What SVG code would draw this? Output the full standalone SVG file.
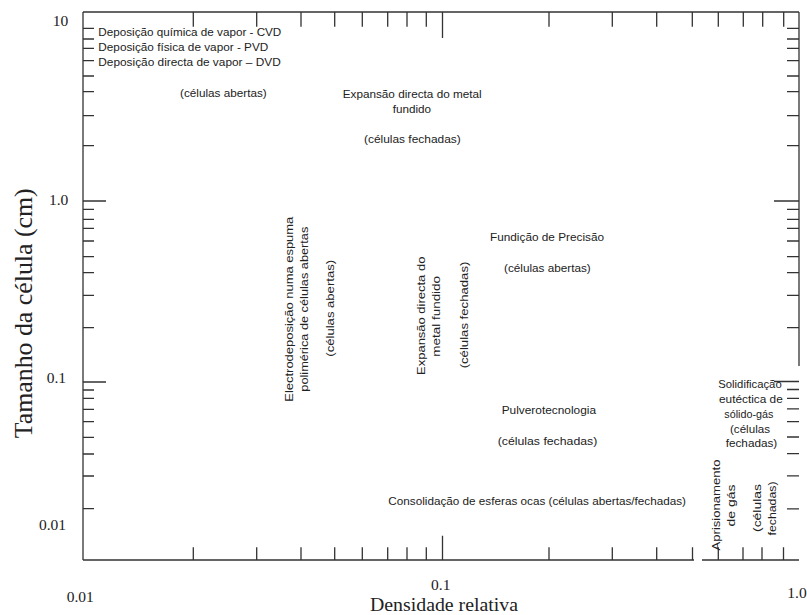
<svg xmlns="http://www.w3.org/2000/svg" width="807" height="615" viewBox="0 0 807 615">
<style>
.ax{stroke:#333;stroke-width:1.3;fill:none}
.lbl{font-family:"Liberation Sans",Arial,sans-serif;font-size:11.5px;fill:#222}
.num{font-family:"Liberation Serif","Times New Roman",serif;font-size:15.5px;fill:#222}
.ttl{font-family:"Liberation Serif","Times New Roman",serif;fill:#222}
</style>
<rect width="807" height="615" fill="#fff"/>
<g id="axes">
<path class="ax" d="M83,12V560M83,12H799M799,12V366M83,560H694M702,560H799"/>
<path class="ax" d="M83,28.3h11M83,39h11M83,48.3h11M83,60.7h11M83,76h11M83,91.7h11M83,115.7h11M83,145.7h11M83,201h23M83,209.3h11M83,219.3h11M83,228.3h11M83,241h11M83,256.7h11M83,272.7h11M83,295.3h11M83,327.7h11M83,382h23M83,390h11M83,398.3h11M83,409.3h11M83,421.7h11M83,437.3h11M83,454h11M83,476h11M83,508.7h11"/>
<path class="ax" d="M799,28.3h-12M799,39h-12M799,48.3h-12M799,60.7h-12M799,76h-12M799,91.7h-12M799,115.7h-12M799,145.7h-12M799,201h-25M799,209.3h-12M799,219.3h-12M799,228.3h-12M799,241h-12M799,256.7h-12M799,272.7h-12M799,295.3h-12M799,327.7h-12M799,381.5h-25M799,389.5h-12M799,398.3h-12M799,408.8h-12M799,421.7h-12M799,437h-12M799,453.7h-12M799,475.8h-12M799,508.8h-12"/>
<path class="ax" d="M193.3,12v14.7M256.7,12v14.7M301,12v14.7M334.7,12v14.7M362.3,12v14.7M387.7,12v14.7M407,12v14.7M426.3,12v14.7M442.5,12v26M549,12v14.7M612.3,12v14.7M656.7,12v14.7M692.3,12v14.7M718.3,12v14.7M743.3,12v14.7M762.7,12v14.7M783.7,12v14.7"/>
<path class="ax" d="M193.3,560v-12.7M256.7,560v-12.7M301,560v-12.7M334.7,560v-12.7M362.3,560v-12.7M387.7,560v-12.7M407,560v-12.7M426.3,560v-12.7M442.5,560v-24.3M549,560v-12.7M612.3,560v-12.7M656.7,560v-12.7M692.5,560v-12.7M718.3,560v-12.7M743,560v-12.7M762,560v-12.7M783.5,560v-12.7"/>
</g>
<g id="axis-numbers">
<text class="num" x="68.3" y="26" text-anchor="end">10</text>
<text class="num" x="68.3" y="205" text-anchor="end">1.0</text>
<text class="num" x="66" y="382.7" text-anchor="end">0.1</text>
<text class="num" x="66" y="530" text-anchor="end">0.01</text>
<text class="num" x="66.7" y="601.7">0.01</text>
<text class="num" x="440.7" y="589.5" text-anchor="middle" font-size="15">0.1</text>
<text class="num" x="787.3" y="597.7">1.0</text>
</g>
<g id="axis-titles">
<text class="ttl" x="370" y="610.5" font-size="19" textLength="148" lengthAdjust="spacingAndGlyphs">Densidade relativa</text>
<text class="ttl" font-size="26" text-anchor="middle" transform="translate(31.5,313.3) rotate(-90)" textLength="250" lengthAdjust="spacingAndGlyphs">Tamanho da célula (cm)</text>
</g>
<g id="deposicao-vapor">
<text class="lbl" x="98.3" y="36" textLength="183" lengthAdjust="spacingAndGlyphs">Deposição química de vapor - CVD</text>
<text class="lbl" x="98.3" y="51" textLength="170" lengthAdjust="spacingAndGlyphs">Deposição física de vapor - PVD</text>
<text class="lbl" x="98.3" y="66" textLength="182.4" lengthAdjust="spacingAndGlyphs">Deposição directa de vapor – DVD</text>
<text class="lbl" x="180" y="96.7" textLength="86.7" lengthAdjust="spacingAndGlyphs">(células abertas)</text>
</g>
<g id="expansao-metal-fundido">
<text class="lbl" x="342.7" y="98.3" textLength="139" lengthAdjust="spacingAndGlyphs">Expansão directa do metal</text>
<text class="lbl" x="392.7" y="112.7" textLength="38.3" lengthAdjust="spacingAndGlyphs">fundido</text>
<text class="lbl" x="364" y="143.3" textLength="96.7" lengthAdjust="spacingAndGlyphs">(células fechadas)</text>
</g>
<g id="fundicao-precisao">
<text class="lbl" x="490" y="241" textLength="114" lengthAdjust="spacingAndGlyphs">Fundição de Precisão</text>
<text class="lbl" x="504" y="271.7" textLength="86.7" lengthAdjust="spacingAndGlyphs">(células abertas)</text>
</g>
<g id="electrodeposicao">
<text class="lbl" text-anchor="middle" transform="translate(293.3,309.2) rotate(-90)" textLength="185" lengthAdjust="spacingAndGlyphs">Electrodeposição numa espuma</text>
<text class="lbl" text-anchor="middle" transform="translate(307.5,309.2) rotate(-90)" textLength="165" lengthAdjust="spacingAndGlyphs">polimérica de células abertas</text>
<text class="lbl" text-anchor="middle" transform="translate(334,308.3) rotate(-90)" textLength="96.7" lengthAdjust="spacingAndGlyphs">(células abertas)</text>
</g>
<g id="expansao-vertical">
<text class="lbl" text-anchor="middle" transform="translate(425,315.8) rotate(-90)" textLength="118.3" lengthAdjust="spacingAndGlyphs">Expansão directa do</text>
<text class="lbl" text-anchor="middle" transform="translate(440,316.3) rotate(-90)" textLength="80.7" lengthAdjust="spacingAndGlyphs">metal fundido</text>
<text class="lbl" text-anchor="middle" transform="translate(467.5,315) rotate(-90)" textLength="106.7" lengthAdjust="spacingAndGlyphs">(células fechadas)</text>
</g>
<g id="pulverotecnologia">
<text class="lbl" x="501.7" y="414" textLength="94.3" lengthAdjust="spacingAndGlyphs">Pulverotecnologia</text>
<text class="lbl" x="497.7" y="445" textLength="99.6" lengthAdjust="spacingAndGlyphs">(células fechadas)</text>
</g>
<g id="consolidacao">
<text class="lbl" x="388.3" y="505" textLength="297.7" lengthAdjust="spacingAndGlyphs">Consolidação de esferas ocas (células abertas/fechadas)</text>
</g>
<g id="solidificacao">
<text class="lbl" x="718.3" y="388" textLength="63.4" lengthAdjust="spacingAndGlyphs">Solidificação</text>
<text class="lbl" x="719" y="402.5" textLength="63.7" lengthAdjust="spacingAndGlyphs">eutéctica de</text>
<text class="lbl" x="724.3" y="417.5" textLength="49" lengthAdjust="spacingAndGlyphs">sólido-gás</text>
<text class="lbl" x="730" y="432.5" textLength="40" lengthAdjust="spacingAndGlyphs">(células</text>
<text class="lbl" x="725.7" y="447" textLength="51.6" lengthAdjust="spacingAndGlyphs">fechadas)</text>
</g>
<g id="aprisionamento">
<text class="lbl" text-anchor="middle" transform="translate(720,505) rotate(-90)" textLength="91" lengthAdjust="spacingAndGlyphs">Aprisionamento</text>
<text class="lbl" text-anchor="middle" transform="translate(735,505.5) rotate(-90)" textLength="42" lengthAdjust="spacingAndGlyphs">de gás</text>
<text class="lbl" text-anchor="middle" transform="translate(760.5,508) rotate(-90)" textLength="48" lengthAdjust="spacingAndGlyphs">(células</text>
<text class="lbl" text-anchor="middle" transform="translate(776,508.5) rotate(-90)" textLength="54" lengthAdjust="spacingAndGlyphs">fechadas)</text>
</g>
</svg>
